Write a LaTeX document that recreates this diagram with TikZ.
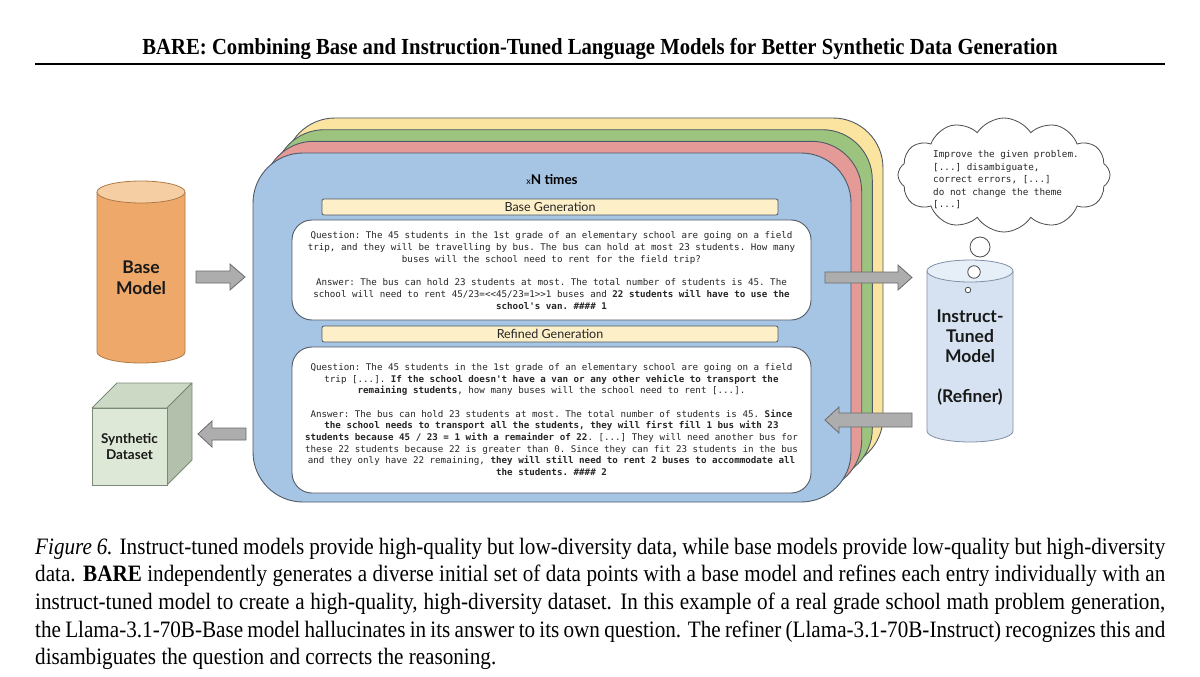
\documentclass[tikz,border=0pt]{standalone}
\usepackage{graphicx}
\usepackage{fontspec}
\setmainfont{Liberation Serif}
\setmonofont{DejaVu Sans Mono}
\newfontfamily\lato{Lato}
\usetikzlibrary{shapes.symbols,shapes.geometric}
\definecolor{blueF}{HTML}{A6C4E4}
\definecolor{redF}{HTML}{E49A96}
\definecolor{greenF}{HTML}{9CC47F}
\definecolor{yellowF}{HTML}{FBE3A0}
\definecolor{hdrF}{HTML}{FDEFC8}
\definecolor{edge}{HTML}{4F5A66}
\definecolor{orangeF}{HTML}{EDA86A}
\definecolor{orangeT}{HTML}{F5CFA3}
\definecolor{orangeE}{HTML}{B07A45}
\definecolor{instrF}{HTML}{D6E2F1}
\definecolor{instrT}{HTML}{E6EEF7}
\definecolor{instrE}{HTML}{8090A5}
\definecolor{cubeF}{HTML}{DDE9D6}
\definecolor{cubeT}{HTML}{CCDAC5}
\definecolor{cubeS}{HTML}{B3C1AC}
\definecolor{cubeE}{HTML}{7A8A78}
\definecolor{arrF}{HTML}{ADADAD}
\definecolor{arrE}{HTML}{6A6A6A}
\definecolor{codeC}{HTML}{262626}
\newcommand\capline[1]{\scalebox{0.9}[1]{\makebox[1255.6pt][s]{#1}}}
\begin{document}
\begin{tikzpicture}[x=1pt,y=-1pt,
  layer/.style={draw=edge, line width=0.9pt, rounded corners=50pt},
  hdr/.style={draw=edge, fill=hdrF, line width=0.8pt, rounded corners=2pt, minimum width=456, minimum height=16, inner sep=0pt, font=\lato\fontsize{12.5}{13}\selectfont, text=black!85},
  wbox/.style={draw=edge, fill=white, line width=0.9pt, rounded corners=20pt},
  code/.style={align=center, inner sep=0pt, text=codeC, font=\ttfamily\fontsize{9.2}{11.7}\selectfont},
  blockarrow/.style={draw=arrE, fill=arrF, line width=0.8pt, line join=miter},
  lbl/.style={align=center, inner sep=0pt, text=black!90, font=\lato\bfseries\fontsize{17.5}{21}\selectfont},
  bubble/.style={circle, draw=black!70, fill=white, line width=0.8pt, inner sep=0pt}]
\fill[white] (0,0) rectangle (1200,677);
\useasboundingbox (0,0) rectangle (1200,677);

% title and rule
\node[anchor=base, inner sep=0pt] (title) at (600,54.5) {\resizebox{915pt}{!}{\scalebox{0.9}[1]{\bfseries BARE: Combining Base and Instruction-Tuned Language Models for Better Synthetic Data Generation}}};
\draw[line width=2pt] (35,64) -- (1165,64);

% stacked layers
\draw[layer, fill=yellowF] (285,118) rectangle (883,467);
\draw[layer, fill=greenF] (274.3,129.7) rectangle (872.3,478.7);
\draw[layer, fill=redF] (263.7,141.3) rectangle (861.7,490.3);
\draw[layer, fill=blueF] (253,153) rectangle (851,502);

\node[inner sep=0pt] (times) at (552,180) {{\lato\fontsize{9}{9}\selectfont x}{\lato\bfseries\fontsize{13.5}{14}\selectfont N times}};

\node[hdr] (basehdr) at (550,207) {Base Generation};
\draw[wbox] (292,220) rectangle (811,320);
\node[code] (basetxt) at (551.5,270.5) {Question: The 45 students in the 1st grade of an elementary school are going on a field\\
trip, and they will be travelling by bus. The bus can hold at most 23 students. How many\\
buses will the school need to rent for the field trip?\\[11.7pt]
Answer: The bus can hold 23 students at most. The total number of students is 45. The\\
school will need to rent 45/23=<<45/23=1>>1 buses and \textbf{22 students will have to use the}\\
\textbf{school's van. \#\#\#\# 1}};

\node[hdr] (refhdr) at (550,334) {Refined Generation};
\draw[wbox] (292,347) rectangle (811,493);
\node[code] (reftxt) at (551.5,419.5) {Question: The 45 students in the 1st grade of an elementary school are going on a field\\
trip {[}...]. \textbf{If the school doesn't have a van or any other vehicle to transport the}\\
\textbf{remaining students}, how many buses will the school need to rent {[}...].\\[11.7pt]
Answer: The bus can hold 23 students at most. The total number of students is 45. \textbf{Since}\\
\textbf{the school needs to transport all the students, they will first fill 1 bus with 23}\\
\textbf{students because 45 / 23 = 1 with a remainder of 22}. {[}...] They will need another bus for\\
these 22 students because 22 is greater than 0. Since they can fit 23 students in the bus\\
and they only have 22 remaining, \textbf{they will still need to rent 2 buses to accommodate all}\\
\textbf{the students. \#\#\#\# 2}};

% base model cylinder
\draw[draw=orangeE, fill=orangeF, line width=0.8pt] (97,192) -- (97,352) arc[start angle=180, end angle=360, x radius=44pt, y radius=11pt] -- (185,192);
\draw[draw=orangeE, fill=orangeT, line width=0.8pt] (141,192) ellipse[x radius=44pt, y radius=11pt];
\node[lbl] (base) at (141,278) {Base\\Model};

% synthetic dataset cube
\draw[draw=cubeE, fill=cubeT, line width=0.8pt, line join=round] (92,408) -- (117,383) -- (192,383) -- (167,408) -- cycle;
\draw[draw=cubeE, fill=cubeS, line width=0.8pt, line join=round] (167,408) -- (192,383) -- (192,460) -- (167,485) -- cycle;
\draw[draw=cubeE, fill=cubeF, line width=0.8pt] (92,408) rectangle (167,485);
\node[lbl, font=\lato\bfseries\fontsize{13.5}{16}\selectfont] (synth) at (129.5,447) {Synthetic\\Dataset};

% instruct-tuned cylinder
\draw[draw=instrE, fill=instrF, line width=0.8pt] (927,271) -- (927,431) arc[start angle=180, end angle=360, x radius=43pt, y radius=11pt] -- (1013,271);
\draw[draw=instrE, fill=instrT, line width=0.8pt] (970,271) ellipse[x radius=43pt, y radius=11pt];
\node[lbl, font=\lato\bfseries\fontsize{17.5}{20.2}\selectfont] (instr) at (970,357.5) {Instruct-\\Tuned\\Model\\[20.2pt](Refiner)};

% thought cloud
\node[cloud, cloud puffs=12, cloud puff arc=115, aspect=1.85, draw=black!70, fill=white, line width=0.8pt, minimum width=212, minimum height=114, inner sep=0pt] (cloud) at (1004,175) {};
\node[align=left, inner sep=0pt, text=codeC, font=\ttfamily\fontsize{9.3}{12.4}\selectfont, anchor=north west] (cloudtxt) at (933,150.5) {Improve the given problem.\\
{[}...] disambiguate,\\
correct errors, {[}...]\\
do not change the theme\\
{[}...]};
\node[bubble, minimum size=20] (b1) at (980,247) {};
\node[bubble, minimum size=12.5] (b2) at (974,272) {};
\node[bubble, minimum size=5.5] (b3) at (968,290) {};

% block arrows
\draw[blockarrow] (196,271) -- (230,271) -- (230,264) -- (245,277) -- (230,290) -- (230,283) -- (196,283) -- cycle;
\draw[blockarrow] (246,428) -- (212,428) -- (212,421) -- (198,434) -- (212,447) -- (212,440) -- (246,440) -- cycle;
\draw[blockarrow] (825,272) -- (898,272) -- (898,265) -- (912,277.5) -- (898,290) -- (898,283) -- (825,283) -- cycle;
\draw[blockarrow] (912,413) -- (839,413) -- (839,407) -- (825,420) -- (839,433) -- (839,427) -- (912,427) -- cycle;

% caption
\begin{scope}[every node/.style={anchor=base west, inner sep=0pt, font=\fontsize{23.5}{27.7}\selectfont}]
\node (cap1) at (35,554) {\capline{\textit{Figure 6.} Instruct-tuned models provide high-quality but low-diversity data, while base models provide low-quality but high-diversity}};
\node (cap2) at (35,581.7) {\capline{data. \textbf{BARE} independently generates a diverse initial set of data points with a base model and refines each entry individually with an}};
\node (cap3) at (35,609.4) {\capline{instruct-tuned model to create a high-quality, high-diversity dataset. In this example of a real grade school math problem generation,}};
\node (cap4) at (35,637.1) {\capline{the Llama-3.1-70B-Base model hallucinates in its answer to its own question. The refiner (Llama-3.1-70B-Instruct) recognizes this and}};
\node (cap5) at (35,664.8) {\scalebox{0.9}[1]{disambiguates the question and corrects the reasoning.}};
\end{scope}
\end{tikzpicture}
\end{document}
